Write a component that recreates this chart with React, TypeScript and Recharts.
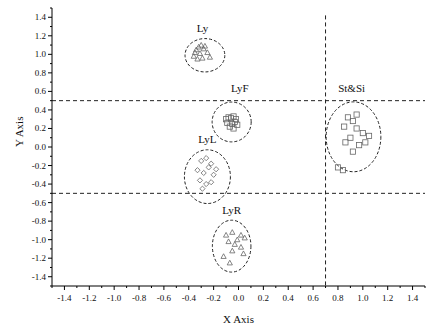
import {
  ScatterChart,
  Scatter,
  XAxis,
  YAxis,
  ReferenceLine,
  ReferenceArea,
  ReferenceDot,
} from 'recharts'

const axisTicks = [
  -1.5, -1.4, -1.3, -1.2, -1.1, -1.0, -0.9, -0.8, -0.7, -0.6, -0.5, -0.4, -0.3, -0.2, -0.1,
  0.0, 0.1, 0.2, 0.3, 0.4, 0.5, 0.6, 0.7, 0.8, 0.9, 1.0, 1.1, 1.2, 1.3, 1.4, 1.5,
]
const labeledTicks = [-1.4, -1.2, -1.0, -0.8, -0.6, -0.4, -0.2, 0.0, 0.2, 0.4, 0.6, 0.8, 1.0, 1.2, 1.4]

const ly = [
  { x: -0.36, y: 0.98 }, { x: -0.34, y: 1.05 }, { x: -0.32, y: 1.08 }, { x: -0.3, y: 1.1 },
  { x: -0.28, y: 1.06 }, { x: -0.25, y: 1.02 }, { x: -0.23, y: 0.97 }, { x: -0.33, y: 0.95 },
  { x: -0.29, y: 0.96 }, { x: -0.31, y: 1.01 }, { x: -0.27, y: 1.09 }, { x: -0.35, y: 1.02 },
]
const lyF = [
  { x: -0.1, y: 0.3 }, { x: -0.08, y: 0.32 }, { x: -0.06, y: 0.31 }, { x: -0.04, y: 0.33 },
  { x: -0.02, y: 0.3 }, { x: -0.09, y: 0.26 }, { x: -0.05, y: 0.25 }, { x: -0.03, y: 0.27 },
  { x: -0.07, y: 0.22 }, { x: -0.04, y: 0.2 }, { x: -0.01, y: 0.24 },
]
const lyL = [
  { x: -0.3, y: -0.15 }, { x: -0.26, y: -0.12 }, { x: -0.22, y: -0.18 }, { x: -0.33, y: -0.25 },
  { x: -0.28, y: -0.28 }, { x: -0.24, y: -0.22 }, { x: -0.2, y: -0.3 }, { x: -0.31, y: -0.36 },
  { x: -0.26, y: -0.4 }, { x: -0.22, y: -0.38 }, { x: -0.29, y: -0.45 }, { x: -0.18, y: -0.24 },
]
const lyR = [
  { x: -0.1, y: -0.95 }, { x: -0.05, y: -0.92 }, { x: 0.02, y: -0.95 }, { x: 0.05, y: -0.98 },
  { x: -0.08, y: -1.02 }, { x: -0.03, y: -1.05 }, { x: 0.02, y: -1.08 }, { x: -0.05, y: -1.12 },
  { x: -0.01, y: -1.0 }, { x: -0.12, y: -1.18 }, { x: -0.07, y: -1.25 }, { x: 0.04, y: -1.15 },
]
const stSi = [
  { x: 0.88, y: 0.32 }, { x: 0.92, y: 0.28 }, { x: 0.85, y: 0.22 }, { x: 0.95, y: 0.2 },
  { x: 1.0, y: 0.15 }, { x: 1.05, y: 0.12 }, { x: 0.9, y: 0.1 }, { x: 0.86, y: 0.05 },
  { x: 0.97, y: 0.02 }, { x: 0.92, y: -0.05 }, { x: 1.02, y: 0.05 }, { x: 0.8, y: -0.22 },
  { x: 0.84, y: -0.25 }, { x: 0.95, y: 0.35 },
]

// group ellipses: name, center, half-widths (data units)
const groupNames = ['Ly', 'LyF', 'LyL', 'LyR', 'St&Si']
const groupCx = [-0.27, -0.055, -0.25, -0.055, 0.925]
const groupCy = [0.99, 0.27, -0.32, -1.07, 0.11]
const groupRx = [0.16, 0.157, 0.185, 0.155, 0.22]
const groupRy = [0.18, 0.215, 0.29, 0.28, 0.377]
const labelX = [-0.29, 0.01, -0.25, -0.055, 0.91]
const labelY = [1.28, 0.64, 0.08, -0.68, 0.635]

const FONT = 'Liberation Serif, Times New Roman, serif'

const XTick = (props: any) => {
  const { x, y, payload } = props
  const major = labeledTicks.some((t) => Math.abs(t - payload.value) < 1e-6)
  return (
    <g>
      <line x1={x} x2={x} y1={y} y2={y + (major ? 4 : 2)} stroke="#000" />
      {major && (
        <text x={x} y={y + 15} textAnchor="middle" fontSize={9} fontFamily={FONT} fill="#111">
          {payload.value.toFixed(1)}
        </text>
      )}
    </g>
  )
}

const YTick = (props: any) => {
  const { x, y, payload } = props
  const major = labeledTicks.some((t) => Math.abs(t - payload.value) < 1e-6)
  return (
    <g>
      <line x1={x - (major ? 4 : 2)} x2={x} y1={y} y2={y} stroke="#000" />
      {major && (
        <text x={x - 6} y={y + 3} textAnchor="end" fontSize={9} fontFamily={FONT} fill="#111">
          {payload.value.toFixed(1)}
        </text>
      )}
    </g>
  )
}

const Ellipse = (props: any) => {
  const { x, y, width, height } = props
  return (
    <ellipse
      cx={x + width / 2}
      cy={y + height / 2}
      rx={Math.abs(width) / 2}
      ry={Math.abs(height) / 2}
      fill="none"
      stroke="#222"
      strokeWidth={1}
      strokeDasharray="3 2"
    />
  )
}

// small hollow markers
const makeMarker = (kind: string) => (props: any) => {
  const { cx, cy } = props
  const r = 2.6
  const common = { fill: 'none', stroke: '#666', strokeWidth: 0.8 }
  if (kind === 'square') return <rect x={cx - r} y={cy - r} width={r * 2} height={r * 2} {...common} />
  if (kind === 'diamond')
    return <polygon points={`${cx},${cy - r} ${cx + r},${cy} ${cx},${cy + r} ${cx - r},${cy}`} {...common} />
  return <polygon points={`${cx},${cy - r} ${cx + r},${cy + r * 0.8} ${cx - r},${cy + r * 0.8}`} {...common} />
}

const series = [
  { data: ly, shape: 'triangle' },
  { data: lyF, shape: 'square' },
  { data: lyL, shape: 'diamond' },
  { data: lyR, shape: 'triangle' },
  { data: stSi, shape: 'square' },
]

export default function App() {
  return (
    <div style={{ position: 'absolute', left: 0, top: 0, width: 427, height: 328, background: '#fff' }}>
      <ScatterChart width={427} height={328} margin={{ top: 8, right: 2, bottom: 0, left: 0 }}>
        <XAxis
          type="number"
          dataKey="x"
          domain={[-1.5, 1.5]}
          ticks={axisTicks}
          interval={0}
          tick={<XTick />}
          tickLine={false}
          tickSize={0}
          tickMargin={0}
          height={42}
          axisLine={{ stroke: '#000' }}
          allowDataOverflow
          label={{ value: 'X Axis', position: 'insideBottom', offset: 5, fontSize: 11, fontFamily: FONT, fill: '#111' }}
        />
        <YAxis
          type="number"
          dataKey="y"
          domain={[-1.5, 1.5]}
          ticks={axisTicks}
          interval={0}
          tick={<YTick />}
          tickLine={false}
          tickSize={0}
          tickMargin={0}
          width={52}
          axisLine={{ stroke: '#000' }}
          allowDataOverflow
          label={{ value: 'Y Axis', angle: -90, position: 'insideLeft', offset: 19, fontSize: 11, fontFamily: FONT, fill: '#111' }}
        />
        <ReferenceLine y={0.5} stroke="#222" strokeDasharray="4 3" />
        <ReferenceLine y={-0.5} stroke="#222" strokeDasharray="4 3" />
        <ReferenceLine
          segment={[{ x: 0.7, y: 1.42 }, { x: 0.7, y: -1.5 }]}
          stroke="#222"
          strokeDasharray="4 3"
        />
        {groupNames.map((name, i) => (
          <ReferenceArea
            key={name}
            x1={groupCx[i] - groupRx[i]}
            x2={groupCx[i] + groupRx[i]}
            y1={groupCy[i] - groupRy[i]}
            y2={groupCy[i] + groupRy[i]}
            shape={<Ellipse />}
          />
        ))}
        {series.map((s, i) => (
          <Scatter
            key={i}
            data={s.data}
            shape={makeMarker(s.shape)}
            isAnimationActive={false}
          />
        ))}
        {groupNames.map((name, i) => (
          <ReferenceDot
            key={'l' + name}
            x={labelX[i]}
            y={labelY[i]}
            r={0}
            fill="none"
            stroke="none"
            label={{ value: name, position: 'center', fontSize: 11, fontFamily: FONT, fill: '#111' }}
          />
        ))}
      </ScatterChart>
    </div>
  )
}
